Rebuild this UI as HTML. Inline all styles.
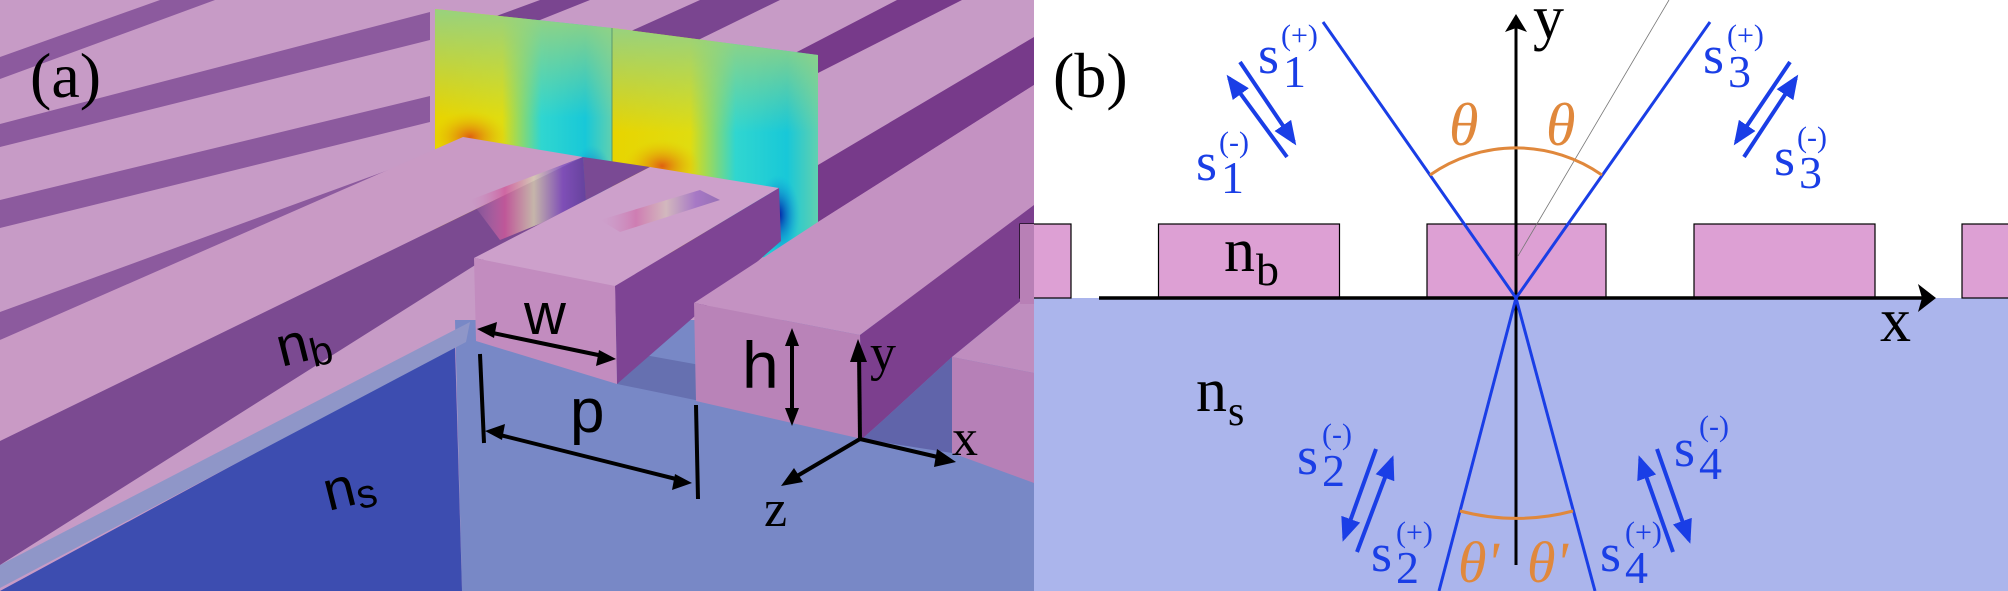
<!DOCTYPE html>
<html><head><meta charset="utf-8"><style>
html,body{margin:0;padding:0;background:#fff}
svg{display:block}
</style></head><body>
<svg width="2008" height="591" viewBox="0 0 2008 591" xmlns="http://www.w3.org/2000/svg">
<defs>
<clipPath id="ca"><rect x="0" y="0" width="1034" height="591"/></clipPath>
<linearGradient id="fh" x1="0" y1="0" x2="1" y2="0">
<stop offset="0" stop-color="#e8d400"/><stop offset="0.38" stop-color="#e0dc10"/><stop offset="0.6" stop-color="#30d6d0"/><stop offset="0.85" stop-color="#18c8d8"/><stop offset="1" stop-color="#60d0b0"/>
</linearGradient>
<linearGradient id="fv" x1="0" y1="0" x2="0" y2="1">
<stop offset="0" stop-color="#98d27e" stop-opacity="1"/><stop offset="0.45" stop-color="#98d27e" stop-opacity="0"/>
</linearGradient>
<radialGradient id="or" cx="0.5" cy="0.5" r="0.5"><stop offset="0" stop-color="#e06010"/><stop offset="1" stop-color="#e8c000" stop-opacity="0"/></radialGradient>
<radialGradient id="bl" cx="0.5" cy="0.5" r="0.5"><stop offset="0" stop-color="#0010a0"/><stop offset="1" stop-color="#10a0e0" stop-opacity="0"/></radialGradient>
<linearGradient id="rb" x1="0" y1="0" x2="1" y2="0">
<stop offset="0" stop-color="#c98cc0" stop-opacity="0"/><stop offset="0.3" stop-color="#d05a9a"/><stop offset="0.55" stop-color="#d8d0b0"/><stop offset="0.8" stop-color="#8050c0"/><stop offset="1" stop-color="#6040a0"/>
</linearGradient>
<marker id="bh" markerWidth="6" markerHeight="5" refX="5" refY="2.5" orient="auto" markerUnits="strokeWidth"><path d="M0,0 L6,2.5 L0,5 Z" fill="#1a3ee6"/></marker>
</defs>

<!-- ============ PANEL A ============ -->
<g clip-path="url(#ca)">
<rect x="0" y="0" width="1034" height="591" fill="#c79bc6"/>
<polygon points="0,57 160,0 215,0 0,79" fill="#8c5a9e"/>
<polygon points="0,124 430,12 430,40 0,147" fill="#8c5a9e"/>
<polygon points="0,200 430,96 430,122 0,228" fill="#8c5a9e"/>
<polygon points="0,312 465,142 471,168 0,340" fill="#8c5a9e"/>
<polygon points="480,22 540,0 590,0 520,28" fill="#7a4590"/>
<polygon points="620,36 700,0 780,0 690,44" fill="#7a4590"/>
<polygon points="795,53 897,0 962,0 818,73" fill="#773a8a"/>
<polygon points="818,165 1034,37 1034,85 818,222" fill="#773a8a"/>
<polygon points="435,9 612,28 612,250 435,230" fill="url(#fh)"/>
<polygon points="435,9 612,28 612,250 435,230" fill="url(#fv)"/>
<polygon points="612,28 818,55 818,260 612,250" fill="url(#fh)"/>
<polygon points="612,28 818,55 818,260 612,250" fill="url(#fv)"/>
<line x1="612" y1="28" x2="612" y2="170" stroke="#5a9a70" stroke-width="1"/>
<ellipse cx="470" cy="137" rx="38" ry="26" fill="url(#or)"/>
<ellipse cx="662" cy="166" rx="38" ry="26" fill="url(#or)"/>
<ellipse cx="592" cy="185" rx="22" ry="40" fill="url(#bl)"/>
<ellipse cx="778" cy="215" rx="22" ry="40" fill="url(#bl)"/>
<polygon points="455,320 1034,320 1034,591 462,591" fill="#7888c6"/>
<polygon points="0,591 455,345 462,591" fill="#3d4db0"/>
<polygon points="0,565 470,322 466,342 0,588" fill="#8f96c8"/>
<polygon points="617,350 700,365 700,401 617,384" fill="#6670b0"/>
<polygon points="0,340 463,137 583,157 0,441" fill="#c99ac5"/>
<polygon points="0,441 583,157 586,205 480,262 0,565" fill="#7b4a91"/>
<polygon points="470,200 583,157 586,205 500,240" fill="url(#rb)" opacity="0.8"/>
<polygon points="583,157 650,167 474,258 480,262 586,205" fill="#7a4a94"/>
<polygon points="474,258 615,286 779,188 650,167" fill="#cda0cb"/>
<polygon points="600,220 700,190 720,200 620,232" fill="url(#rb)" opacity="0.5"/>
<polygon points="615,286 779,188 781,241 617,384" fill="#7e4494"/>
<polygon points="474,258 615,286 617,384 476,341" fill="#c28cbf"/>
<polygon points="694,303 860,335 1034,205 1034,85 818,222" fill="#c492c2"/>
<polygon points="860,335 1034,205 1034,290 952,357 880,423 862,439" fill="#7c3f8e"/>
<polygon points="862,439 880,423 952,357 952,453" fill="#6064aa"/>
<polygon points="694,303 860,335 862,439 696,401" fill="#b983b8"/>
<polygon points="952,357 1034,290 1034,373" fill="#bf8dbf"/>
<polygon points="952,357 1034,373 1034,483 952,453" fill="#b680b7"/>

<text x="30" y="97" style="font-family:'Liberation Serif','DejaVu Serif',serif" font-size="64" fill="#000">(a)</text>
<g transform="rotate(-14 300 350)"><text x="278" y="362" style="font-family:'Liberation Sans',sans-serif" font-size="56" fill="#000">n<tspan font-size="40" dy="8">b</tspan></text></g>
<g transform="rotate(-14 340 500)"><text x="326" y="508" style="font-family:'Liberation Sans',sans-serif" font-size="56" fill="#000">n<tspan font-size="40" dy="6">s</tspan></text></g>
<text x="524" y="334" style="font-family:'Liberation Sans',sans-serif" font-size="58" fill="#000">w</text>
<text x="570" y="432" style="font-family:'Liberation Sans',sans-serif" font-size="62" fill="#000">p</text>
<text x="742" y="388" style="font-family:'Liberation Sans',sans-serif" font-size="66" fill="#000">h</text>
<text x="870" y="370" style="font-family:'Liberation Serif','DejaVu Serif',serif" font-size="52" fill="#000">y</text>
<text x="952" y="455" style="font-family:'Liberation Serif','DejaVu Serif',serif" font-size="52" fill="#000">x</text>
<text x="764" y="526" style="font-family:'Liberation Serif','DejaVu Serif',serif" font-size="52" fill="#000">z</text>
<line x1="488" y1="332" x2="603" y2="356" stroke="#000" stroke-width="4"/>
<polygon points="477,329 497,322 494,338" fill="#000"/>
<polygon points="616,359 596,366 599,350" fill="#000"/>
<line x1="480" y1="354" x2="484" y2="443" stroke="#000" stroke-width="4"/>
<line x1="696" y1="405" x2="698" y2="499" stroke="#000" stroke-width="4"/>
<line x1="496" y1="434" x2="680" y2="480" stroke="#000" stroke-width="4"/>
<polygon points="485,431 505,424 502,440" fill="#000"/>
<polygon points="692,483 672,490 675,474" fill="#000"/>
<line x1="792" y1="340" x2="792" y2="414" stroke="#000" stroke-width="4"/>
<polygon points="792,328 785,346 799,346" fill="#000"/>
<polygon points="792,426 785,408 799,408" fill="#000"/>
<line x1="860" y1="439" x2="859" y2="352" stroke="#000" stroke-width="4"/>
<polygon points="858,339 850,362 867,362" fill="#000"/>
<line x1="860" y1="439" x2="942" y2="458" stroke="#000" stroke-width="4"/>
<polygon points="956,462 934,467 937,449" fill="#000"/>
<line x1="860" y1="439" x2="792" y2="479" stroke="#000" stroke-width="4"/>
<polygon points="781,486 794,468 803,482" fill="#000"/>
</g>

<!-- ============ PANEL B ============ -->
<rect x="1034" y="0" width="974" height="298" fill="#ffffff"/>
<rect x="1034" y="298" width="974" height="293" fill="#abb5ec"/>
<rect x="1020" y="224" width="51" height="74" fill="#dda0d4" stroke="#000" stroke-width="1.2"/>
<rect x="1158.5" y="224" width="181" height="74" fill="#dda0d4" stroke="#000" stroke-width="1.2"/>
<rect x="1427" y="224" width="179" height="74" fill="#dda0d4" stroke="#000" stroke-width="1.2"/>
<rect x="1694" y="224" width="181" height="74" fill="#dda0d4" stroke="#000" stroke-width="1.2"/>
<rect x="1962" y="224" width="60" height="74" fill="#dda0d4" stroke="#000" stroke-width="1.2"/>
<rect x="1020" y="224" width="14" height="80" fill="#b880b6"/>
<line x1="1099" y1="298" x2="1922" y2="298" stroke="#000" stroke-width="3.5"/>
<polygon points="1936,298 1918,284 1922,298 1918,312" fill="#000"/>
<line x1="1516" y1="565" x2="1516" y2="28" stroke="#000" stroke-width="3"/>
<polygon points="1516,14 1505,32 1516,28 1527,32" fill="#000"/>
<line x1="1518" y1="256" x2="1669" y2="0" stroke="#777" stroke-width="0.8"/>
<g stroke="#1a3ee6" stroke-width="3" fill="none">
<line x1="1516" y1="298" x2="1323" y2="22"/>
<line x1="1516" y1="298" x2="1710" y2="22"/>
<line x1="1516" y1="298" x2="1439" y2="591"/>
<line x1="1516" y1="298" x2="1595" y2="591"/>
</g>
<path d="M1430,175 A150,150 0 0 1 1602,175" stroke="#e0883c" stroke-width="3" fill="none"/>
<path d="M1460,511 A220,220 0 0 0 1573,511" stroke="#e0883c" stroke-width="3" fill="none"/>
<g style="font-family:'Liberation Serif','DejaVu Serif',serif" font-style="italic" fill="#e0883c">
<text x="1449" y="145" font-size="60" style="font-family:'Liberation Serif','DejaVu Serif',serif">θ</text>
<text x="1546" y="145" font-size="60" style="font-family:'Liberation Serif','DejaVu Serif',serif">θ</text>
<text x="1458" y="582" font-size="58" style="font-family:'Liberation Serif','DejaVu Serif',serif">θ'</text>
<text x="1527" y="582" font-size="58" style="font-family:'Liberation Serif','DejaVu Serif',serif">θ'</text>
</g>
<g fill="#000">
<text x="1053" y="97" font-size="64" style="font-family:'Liberation Serif','DejaVu Serif',serif">(b)</text>
<text x="1224" y="271" font-size="62" style="font-family:'Liberation Serif','DejaVu Serif',serif">n</text><text x="1256" y="285" font-size="46" style="font-family:'Liberation Serif','DejaVu Serif',serif">b</text>
<text x="1196" y="411" font-size="62" style="font-family:'Liberation Serif','DejaVu Serif',serif">n</text><text x="1228" y="425" font-size="42" style="font-family:'Liberation Serif','DejaVu Serif',serif">s</text>
<text x="1880" y="341" font-size="62" style="font-family:'Liberation Serif','DejaVu Serif',serif">x</text>
<text x="1533" y="38" font-size="62" style="font-family:'Liberation Serif','DejaVu Serif',serif">y</text>
</g>
<g fill="#1a3ee6" style="font-family:'Liberation Serif','DejaVu Serif',serif">
<text x="1258" y="73" font-size="54" style="font-family:'Liberation Serif',serif">s</text><text x="1283" y="87" font-size="46" style="font-family:'Liberation Serif',serif">1</text><text x="1281" y="45" font-size="30" style="font-family:'Liberation Serif',serif">(+)</text>
<text x="1196" y="180" font-size="54" style="font-family:'Liberation Serif',serif">s</text><text x="1221" y="193" font-size="46" style="font-family:'Liberation Serif',serif">1</text><text x="1219" y="152" font-size="30" style="font-family:'Liberation Serif',serif">(-)</text>
<text x="1703" y="73" font-size="54" style="font-family:'Liberation Serif',serif">s</text><text x="1728" y="87" font-size="46" style="font-family:'Liberation Serif',serif">3</text><text x="1727" y="45" font-size="30" style="font-family:'Liberation Serif',serif">(+)</text>
<text x="1774" y="175" font-size="54" style="font-family:'Liberation Serif',serif">s</text><text x="1799" y="188" font-size="46" style="font-family:'Liberation Serif',serif">3</text><text x="1797" y="147" font-size="30" style="font-family:'Liberation Serif',serif">(-)</text>
<text x="1297" y="474" font-size="54" style="font-family:'Liberation Serif',serif">s</text><text x="1322" y="486" font-size="46" style="font-family:'Liberation Serif',serif">2</text><text x="1322" y="444" font-size="30" style="font-family:'Liberation Serif',serif">(-)</text>
<text x="1371" y="571" font-size="54" style="font-family:'Liberation Serif',serif">s</text><text x="1396" y="583" font-size="46" style="font-family:'Liberation Serif',serif">2</text><text x="1396" y="542" font-size="30" style="font-family:'Liberation Serif',serif">(+)</text>
<text x="1674" y="466" font-size="54" style="font-family:'Liberation Serif',serif">s</text><text x="1699" y="479" font-size="46" style="font-family:'Liberation Serif',serif">4</text><text x="1699" y="436" font-size="30" style="font-family:'Liberation Serif',serif">(-)</text>
<text x="1600" y="571" font-size="54" style="font-family:'Liberation Serif',serif">s</text><text x="1625" y="583" font-size="46" style="font-family:'Liberation Serif',serif">4</text><text x="1625" y="542" font-size="30" style="font-family:'Liberation Serif',serif">(+)</text>
</g>
<g stroke="#1a3ee6" stroke-width="4" fill="none" marker-end="url(#bh)">
<line x1="1240" y1="62" x2="1294" y2="142"/>
<line x1="1287" y1="157" x2="1229" y2="78"/>
<line x1="1790" y1="62" x2="1736" y2="142"/>
<line x1="1744" y1="157" x2="1796" y2="78"/>
<line x1="1376" y1="449" x2="1344" y2="538"/>
<line x1="1357" y1="552" x2="1392" y2="459"/>
<line x1="1657" y1="449" x2="1689" y2="540"/>
<line x1="1673" y1="552" x2="1640" y2="459"/>
</g>
</svg>
</body></html>
